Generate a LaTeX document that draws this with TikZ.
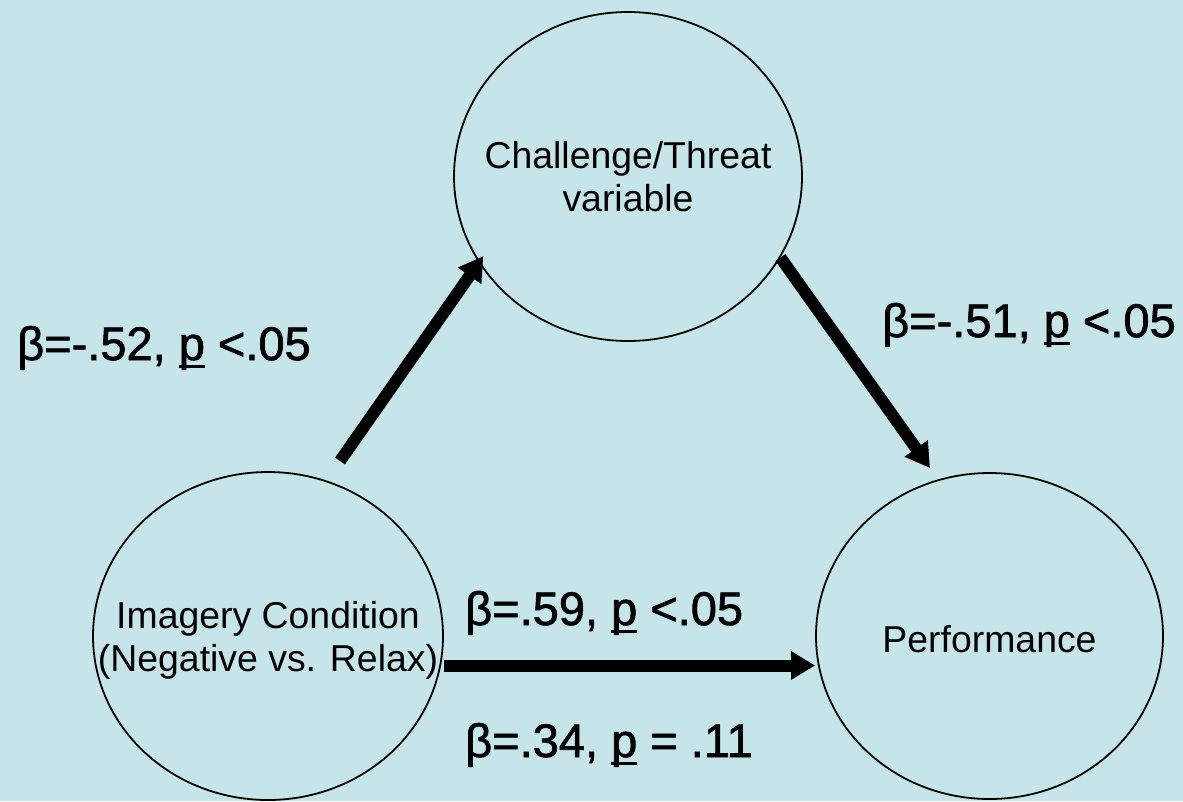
\documentclass[tikz,border=0pt]{standalone}
\usepackage{fontspec}
\setmainfont{Liberation Sans}
\newfontfamily\labfont{Liberation Sans}[FakeBold=1.5]
\usetikzlibrary{arrows.meta,shapes.geometric}
\definecolor{bgcol}{RGB}{197,229,232}
\newcommand\myulp{\setbox0\hbox{p}\rlap{\rule[-0.17em]{\wd0}{0.06em}}p}
\newcommand\ctext[2][-5pt]{\raisebox{#1}[\height][\depth]{\makebox[0pt][c]{\begin{tabular}{@{}c@{}}#2\end{tabular}}}}
\tikzset{
  var/.style={ellipse, draw=black, line width=1.8pt, inner sep=0pt,
    font=\fontsize{37.4}{43}\selectfont},
  arr/.style={line width=12pt, -{Triangle[length=24pt,width=27pt]}},
  lab/.style={inner sep=0pt, anchor=base west, font=\labfont\fontsize{47}{56}\selectfont}
}
\begin{document}
\begin{tikzpicture}[x=1pt,y=1pt]
\fill[bgcol] (0,0) rectangle (1183,-801);
\useasboundingbox (0,0) rectangle (1183,-801);
\node[var, minimum width=348pt, minimum height=329pt] (top) at (628,-176.5)
  {\ctext{Challenge/Threat\\variable}};
\node[var, minimum width=350pt, minimum height=328pt] (left) at (268,-636)
  {\ctext{Imagery Condition\\(Negative vs. Relax)}};
\node[var, minimum width=347pt, minimum height=326pt] (right) at (989.5,-636)
  {\ctext[-7.5pt]{Performance}};
\coordinate (c1) at (340,-461);
\coordinate (c2) at (930,-468);
\coordinate (a3) at (0,-665.5);
\draw[arr, shorten >=-8pt] (c1) -- (top.210);
\draw[arr] (top.-28) -- (c2);
\draw[arr] (left.east |- a3) -- (right.west |- a3);
\node[lab] (l1) at (17,-360) {β=-.52, \myulp{} <.05};
\node[lab] (l2) at (882,-337) {β=-.51, \myulp{} <.05};
\node[lab] (l3) at (465,-625) {β=.59, \myulp{} <.05};
\node[lab] (l4) at (465,-757) {β=.34, \myulp{} = .11};
\end{tikzpicture}
\end{document}
